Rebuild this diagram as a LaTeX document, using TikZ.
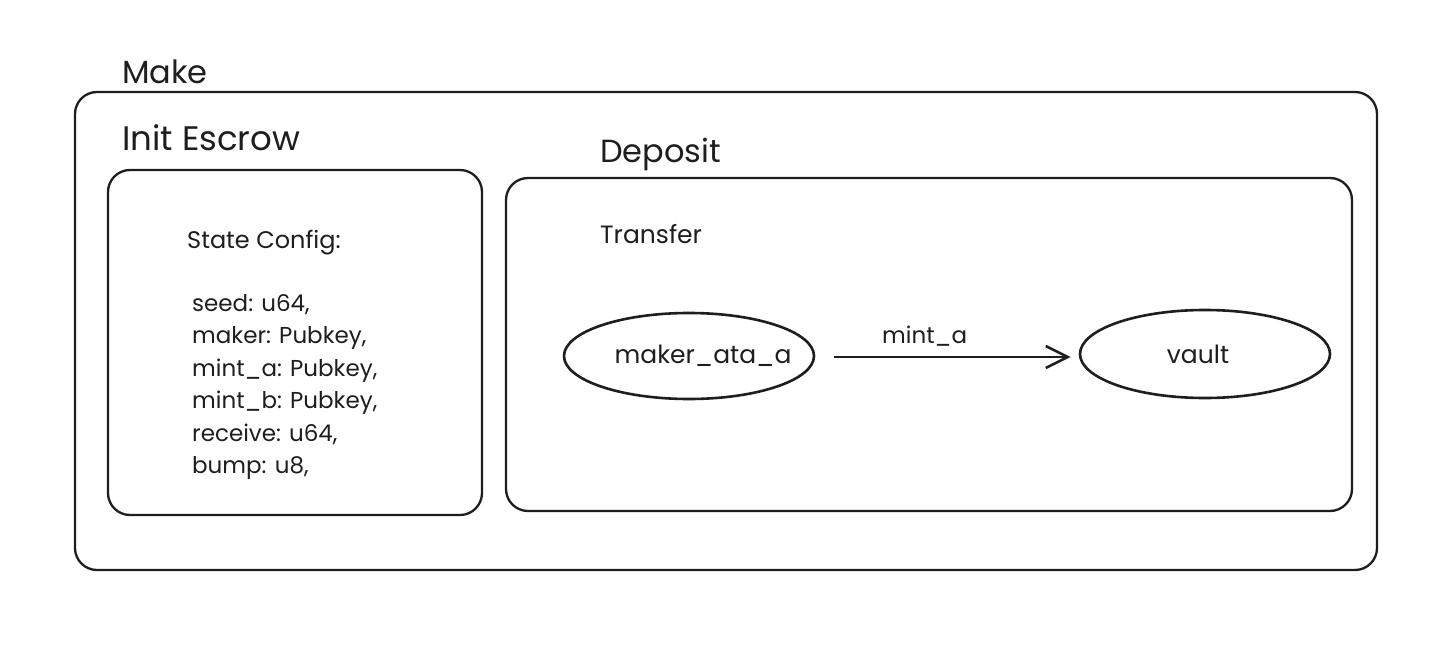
\documentclass[tikz,border=0pt]{standalone}
\usepackage{fontspec}
\setmainfont{Poppins}
\usetikzlibrary{shapes.geometric,arrows.meta}
\definecolor{ink}{HTML}{1E1E1E}
\tikzset{
  frame/.style={draw=ink, line width=2.3pt, rounded corners=22pt},
  title/.style={anchor=base west, inner sep=0pt, text=ink, font=\fontsize{32}{38}\selectfont},
  body/.style={anchor=base west, inner sep=0pt, text=ink, font=\fontsize{23}{27}\selectfont},
  blob/.style={draw=ink, line width=2.6pt, ellipse, inner sep=0pt},
  blobtext/.style={inner sep=0pt, text=ink, font=\fontsize{25}{30}\selectfont},
  flow/.style={draw=ink, line width=2.6pt, -{Straight Barb[length=22pt,width=22pt,line width=2.6pt]}}
}
\begin{document}
\begin{tikzpicture}[x=1pt,y=-1pt]
\useasboundingbox (0,0) rectangle (1454,650);
\fill[white] (0,0) rectangle (1454,650);
% outer frame
\draw[frame] (75,92) rectangle (1377,570);
\node[title] (make) at (122,84) {Make};
% init escrow
\node[title, font=\fontsize{34}{40}\selectfont] (init) at (122,150) {Init Escrow};
\draw[frame] (108,170) rectangle (482,515);
\node[body, font=\fontsize{24}{28}\selectfont] (state) at (187,248) {State Config:};
\node[body] (l1) at (192,311) {seed: u64,};
\node[body] (l2) at (192,343) {maker: Pubkey,};
\node[body] (l3) at (192,376) {mint\_a: Pubkey,};
\node[body] (l4) at (192,408) {mint\_b: Pubkey,};
\node[body] (l5) at (192,441) {receive: u64,};
\node[body] (l6) at (192,473) {bump: u8,};
% deposit
\node[title] (dep) at (600,163) {Deposit};
\draw[frame] (506,178) rectangle (1352,511);
\node[body, font=\fontsize{25}{30}\selectfont] (trans) at (600,243) {Transfer};
\node[blob, minimum width=250pt, minimum height=86pt] (mata) at (689,356) {};
\node[blobtext] (matatext) at (703,356) {maker\_ata\_a};
\node[blob, minimum width=250pt, minimum height=88pt] (vault) at (1205,354) {};
\node[blobtext] (vaulttext) at (1198,354) {vault};
\draw[flow] ([xshift=19pt,yshift=-1pt]mata.east) -- ([xshift=-8pt,yshift=-3pt]vault.west);
\node[body] (lab) at (882,343) {mint\_a};
\end{tikzpicture}
\end{document}
